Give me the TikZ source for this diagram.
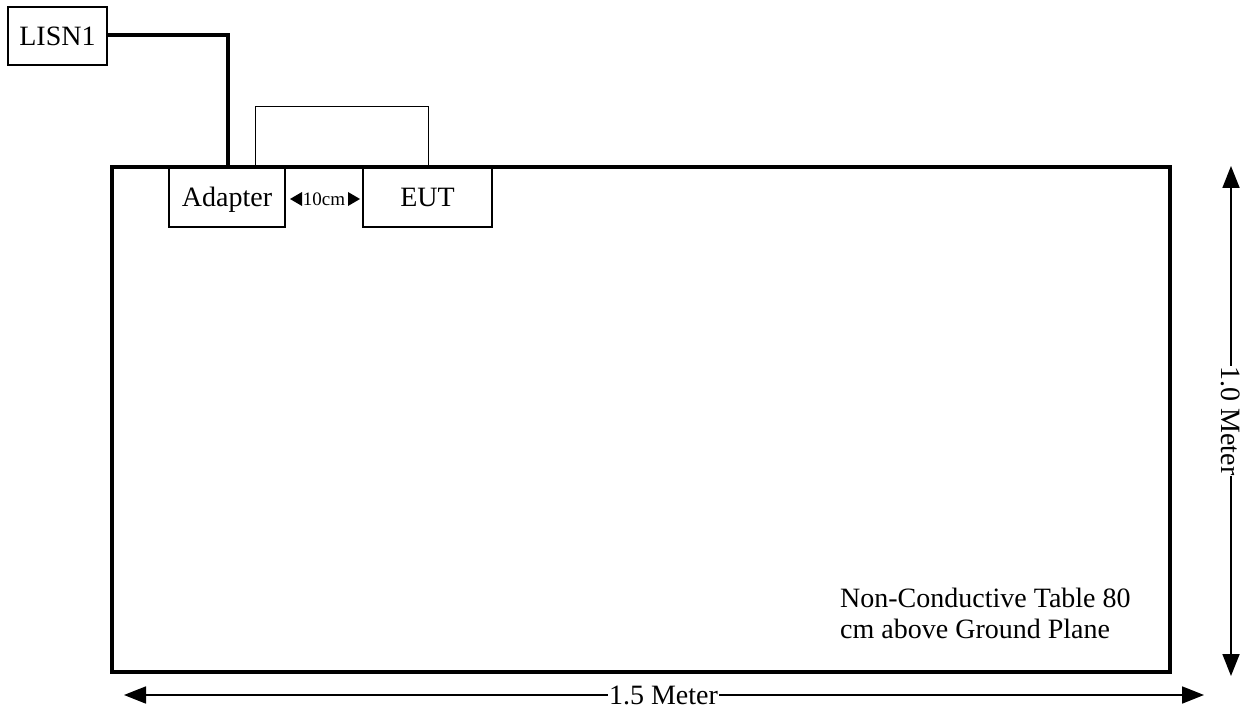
\documentclass[tikz,border=0pt]{standalone}
\usepackage{fontspec}
\setmainfont{Liberation Serif}
\usetikzlibrary{arrows.meta}
\begin{document}
\begin{tikzpicture}[x=1pt,y=-1pt,
  box/.style={draw,line width=1.3pt,inner sep=0pt,text height=18.5pt,text depth=0pt,font=\fontsize{28}{31}\selectfont},
  lbl/.style={font=\fontsize{28}{31}\selectfont,inner sep=0pt},
  dim/.style={line width=1.8pt,{Triangle[length=22pt,width=17pt]}-{Triangle[length=22pt,width=17pt]}}]
\useasboundingbox (0,0) rectangle (1254,714);
% table
\draw[line width=4pt] (112,167) rectangle (1170,672);
% boxes
\node[box,minimum width=99pt,minimum height=58pt] (lisn) at (57.5,36) {LISN1};
\node[box,minimum width=116pt,minimum height=59pt,fill=white] (adapter) at (227,197.5) {Adapter};
\node[box,minimum width=129pt,minimum height=59pt,fill=white] (eut) at (427.5,197.5) {EUT};
% power cable
\coordinate (c1) at (228,35);
\draw[line width=4pt] (lisn.east |- c1) -- (c1) -- (228,167);
% thin cable
\draw[line width=1pt] (255,167) -- (255,107) -- (428,107) -- (428,167);
% 10cm
\node[lbl,font=\fontsize{19}{21}\selectfont] (ten) at (324,199) {10cm};
\fill (290,199) -- (302,192) -- (302,206) -- cycle;
\fill (360,199) -- (348,192) -- (348,206) -- cycle;
% dimensions
\coordinate (h1) at (124,695);
\coordinate (h2) at (1204,695);
\draw[dim] (h1) -- (h2) node[lbl,pos=0.4995,fill=white,inner xsep=1pt] (hl) {1.5 Meter};
\coordinate (v1) at (1231,166);
\coordinate (v2) at (1231,676);
\draw[dim] (v1) -- (v2) node[lbl,pos=0.5,fill=white,inner xsep=1pt,rotate=-90] (vl) {1.0 Meter};
% table note
\node[lbl,anchor=north west,align=left] (note) at (840,588) {Non-Conductive Table 80\\cm above Ground Plane};
\end{tikzpicture}
\end{document}
